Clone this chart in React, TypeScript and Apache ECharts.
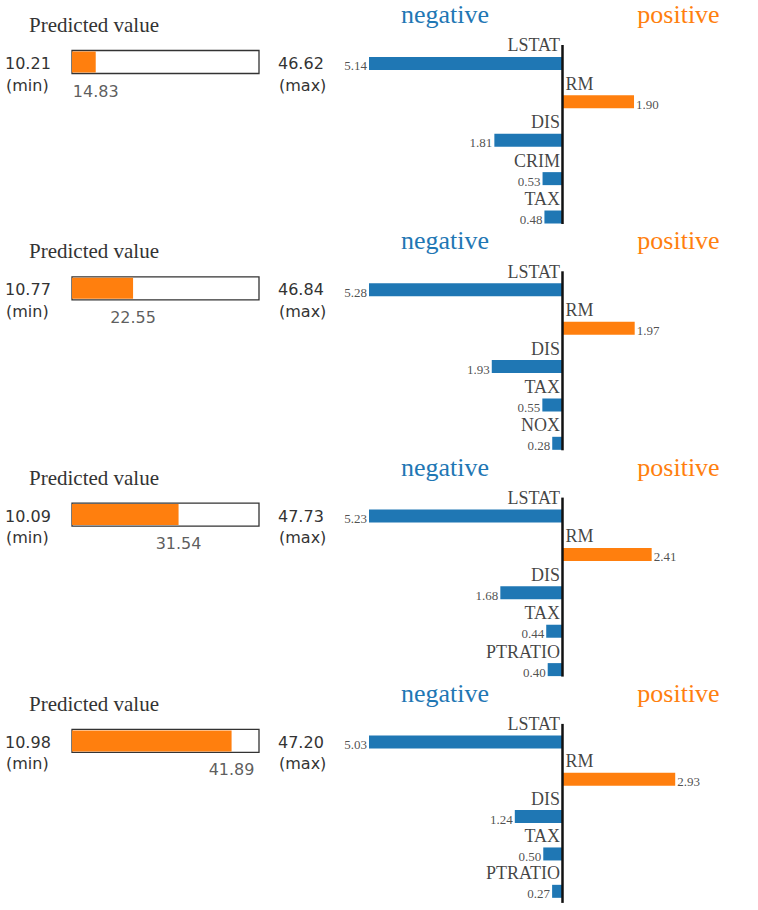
import React, { useEffect, useRef } from "react";
import * as echarts from "echarts";

const predMin = [10.21, 10.77, 10.09, 10.98];
const predMax = [46.62, 46.84, 47.73, 47.2];
const predValue = [14.83, 22.55, 31.54, 41.89];
const featureNames = [
  ["LSTAT", "RM", "DIS", "CRIM", "TAX"],
  ["LSTAT", "RM", "DIS", "TAX", "NOX"],
  ["LSTAT", "RM", "DIS", "TAX", "PTRATIO"],
  ["LSTAT", "RM", "DIS", "TAX", "PTRATIO"],
];
const featureWeights = [
  [-5.14, 1.9, -1.81, -0.53, -0.48],
  [-5.28, 1.97, -1.93, -0.55, -0.28],
  [-5.23, 2.41, -1.68, -0.44, -0.4],
  [-5.03, 2.93, -1.24, -0.5, -0.27],
];

const BLUE = "#1f77b4";
const ORANGE = "#ff7f0e";
const SERIF = "'Liberation Serif', 'Times New Roman', serif";
const SANS = "'DejaVu Sans', Verdana, sans-serif";
const PANEL_H = 226.3;

export default function App() {
  const ref = useRef<HTMLDivElement>(null);
  useEffect(() => {
    document.body.style.margin = "0";
    const chart = echarts.init(ref.current!, null, { renderer: "svg" });
    const grid: any[] = [];
    const xAxis: any[] = [];
    const yAxis: any[] = [];
    const series: any[] = [];
    const graphic: any[] = [];

    predValue.forEach((pv, i) => {
      const oy = i * PANEL_H;
      // predicted value bar
      const g1 = grid.length;
      grid.push({
        left: 72,
        top: oy + 50.5,
        width: 187,
        height: 23,
        show: true,
        borderColor: "#333",
        borderWidth: 1.3,
        backgroundColor: "#fff",
      });
      xAxis.push({ type: "value", gridIndex: g1, min: predMin[i], max: predMax[i], show: false });
      yAxis.push({ type: "category", gridIndex: g1, data: ["pred"], show: false });
      series.push({
        type: "bar",
        xAxisIndex: g1,
        yAxisIndex: g1,
        data: [pv],
        barWidth: 21,
        clip: true,
        silent: true,
        itemStyle: { color: ORANGE },
      });
      series.push({
        type: "scatter",
        xAxisIndex: g1,
        yAxisIndex: g1,
        data: [[pv, "pred"]],
        symbolSize: 0,
        silent: true,
        itemStyle: { color: "#333" },
        label: {
          show: true,
          position: "inside",
          align: "center",
          verticalAlign: "middle",
          formatter: pv.toFixed(2),
          fontFamily: SANS,
          fontSize: 16,
          color: "#333",
          offset: [0, 29],
        },
      });

      // explanation bars
      const names = featureNames[i];
      const weights = featureWeights[i];
      const maxAbs = Math.max(...weights.map((w) => Math.abs(w)));
      const g2 = grid.length;
      grid.push({ left: 369, top: oy + 44.3, width: 387, height: 191.9 });
      xAxis.push({ type: "value", gridIndex: g2, min: -maxAbs, max: maxAbs, show: false });
      yAxis.push({ type: "category", gridIndex: g2, data: names, inverse: true, show: false });
      series.push({
        type: "bar",
        xAxisIndex: g2,
        yAxisIndex: g2,
        barWidth: 13,
        silent: true,
        data: weights.map((w) => ({ value: w, itemStyle: { color: w < 0 ? BLUE : ORANGE } })),
      });
      series.push({
        type: "scatter",
        xAxisIndex: g2,
        yAxisIndex: g2,
        symbolSize: 0,
        silent: true,
        itemStyle: { color: "#111" },
        data: names.map((n, k) => ({
          name: n,
          value: [0, n],
          label: {
            align: weights[k] < 0 ? "right" : "left",
            offset: [weights[k] < 0 ? -2.5 : 3, -18],
            color: "#111",
          },
        })),
        label: {
          show: true,
          position: "inside",
          verticalAlign: "middle",
          formatter: "{b}",
          fontFamily: SERIF,
          fontSize: 18,
          color: "#111",
        },
      });
      series.push({
        type: "scatter",
        xAxisIndex: g2,
        yAxisIndex: g2,
        symbolSize: 0,
        silent: true,
        itemStyle: { color: "#222" },
        data: names.map((n, k) => ({
          name: Math.abs(weights[k]).toFixed(2),
          value: [weights[k], n],
          label: {
            align: weights[k] < 0 ? "right" : "left",
            offset: [weights[k] < 0 ? -2 : 2, 2.5],
            color: "#222",
          },
        })),
        label: {
          show: true,
          position: "inside",
          verticalAlign: "middle",
          formatter: "{b}",
          fontFamily: SERIF,
          fontSize: 13,
          color: "#222",
        },
      });

      // texts
      graphic.push(
        {
          type: "text",
          x: 29,
          y: oy + 25,
          style: { text: "Predicted value", fontFamily: SERIF, fontSize: 21, fill: "#333", align: "left", verticalAlign: "middle" },
        },
        {
          type: "text",
          x: 5,
          y: oy + 63.5,
          style: { text: predMin[i].toFixed(2), fontFamily: SANS, fontSize: 16, fill: "#333", align: "left", verticalAlign: "middle" },
        },
        {
          type: "text",
          x: 6,
          y: oy + 85,
          style: { text: "(min)", fontFamily: SANS, fontSize: 16, fill: "#333", align: "left", verticalAlign: "middle" },
        },
        {
          type: "text",
          x: 278,
          y: oy + 63.5,
          style: { text: predMax[i].toFixed(2), fontFamily: SANS, fontSize: 16, fill: "#333", align: "left", verticalAlign: "middle" },
        },
        {
          type: "text",
          x: 279,
          y: oy + 85,
          style: { text: "(max)", fontFamily: SANS, fontSize: 16, fill: "#333", align: "left", verticalAlign: "middle" },
        },
        {
          type: "text",
          x: 445,
          y: oy + 14.5,
          style: { text: "negative", fontFamily: SERIF, fontSize: 26, fill: BLUE, align: "center", verticalAlign: "middle" },
        },
        {
          type: "text",
          x: 678.5,
          y: oy + 14.5,
          style: { text: "positive", fontFamily: SERIF, fontSize: 26, fill: ORANGE, align: "center", verticalAlign: "middle" },
        },
        {
          type: "line",
          z: 10,
          shape: { x1: 562.5, y1: oy + 45, x2: 562.5, y2: oy + 224 },
          style: { stroke: "#111", lineWidth: 2.5 },
        }
      );
    });

    chart.setOption({
      animation: false,
      backgroundColor: "#fff",
      grid,
      xAxis,
      yAxis,
      series,
      graphic,
    });
    return () => chart.dispose();
  }, []);
  return <div ref={ref} style={{ width: 758, height: 910 }} />;
}
